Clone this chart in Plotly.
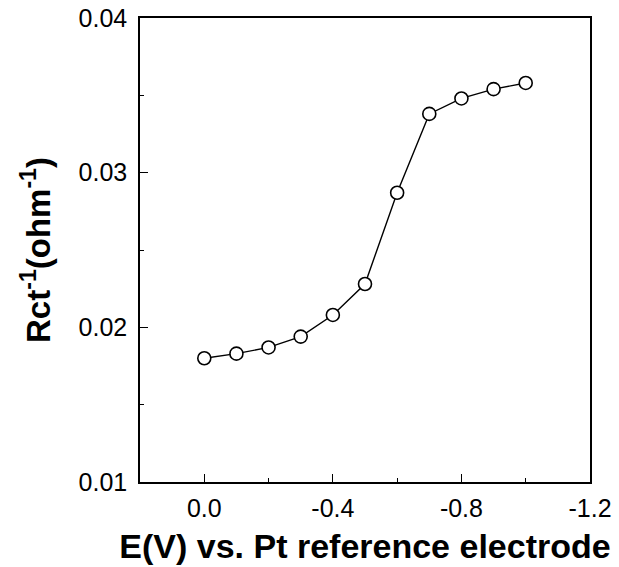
import plotly.graph_objects as go

# Electrode potential (V vs. Pt reference) and charge-transfer conductance
potential = [0.0, -0.1, -0.2, -0.3, -0.4, -0.5, -0.6, -0.7, -0.8, -0.9, -1.0]
rct_inv = [0.0180, 0.0183, 0.0187, 0.0194, 0.0208, 0.0228, 0.0287, 0.0338, 0.0348, 0.0354, 0.0358]

x_tickvals = [0.0, -0.4, -0.8, -1.2]
x_ticktext = ["0.0", "-0.4", "-0.8", "-1.2"]
y_tickvals = [0.01, 0.02, 0.03, 0.04]
y_ticktext = ["0.01", "0.02", "0.03", "0.04"]

FONT = "Liberation Sans, Arial, Helvetica, sans-serif"

fig = go.Figure()
fig.add_trace(go.Scatter(
    x=potential, y=rct_inv,
    mode="lines+markers",
    line=dict(color="black", width=1.4),
    marker=dict(symbol="circle", size=13, color="white",
                line=dict(color="black", width=1.6)),
    showlegend=False,
))

axis_common = dict(
    showline=True, linecolor="black", linewidth=1.5, mirror=True,
    showgrid=False, zeroline=False,
    ticks="inside", ticklen=8, tickwidth=1.2, tickcolor="black",
    tickfont=dict(family=FONT, size=25, color="black"),
)

fig.update_xaxes(
    **axis_common,
    range=[0.2, -1.2],
    tickvals=x_tickvals, ticktext=x_ticktext,
    minor=dict(dtick=0.2, tick0=0, ticks="inside", ticklen=4,
               tickwidth=1, tickcolor="black"),
    ticklabelstandoff=3,
    title=dict(text="<b>E(V) vs. Pt reference electrode</b>",
               font=dict(family=FONT, size=34, color="black"), standoff=13),
)
fig.update_yaxes(
    **axis_common,
    range=[0.01, 0.04],
    tickvals=y_tickvals, ticktext=y_ticktext,
    minor=dict(dtick=0.005, tick0=0.01, ticks="inside", ticklen=4,
               tickwidth=1, tickcolor="black"),
    ticklabelstandoff=6,
    title=dict(text="<b>Rct<sup>-1</sup>(ohm<sup>-1</sup>)</b>",
               font=dict(family=FONT, size=33, color="black"), standoff=18),
)

fig.update_layout(
    width=619, height=567,
    margin=dict(l=140, r=29, t=18, b=85, autoexpand=False),
    plot_bgcolor="white", paper_bgcolor="white",
)

fig.write_html("out.html")
